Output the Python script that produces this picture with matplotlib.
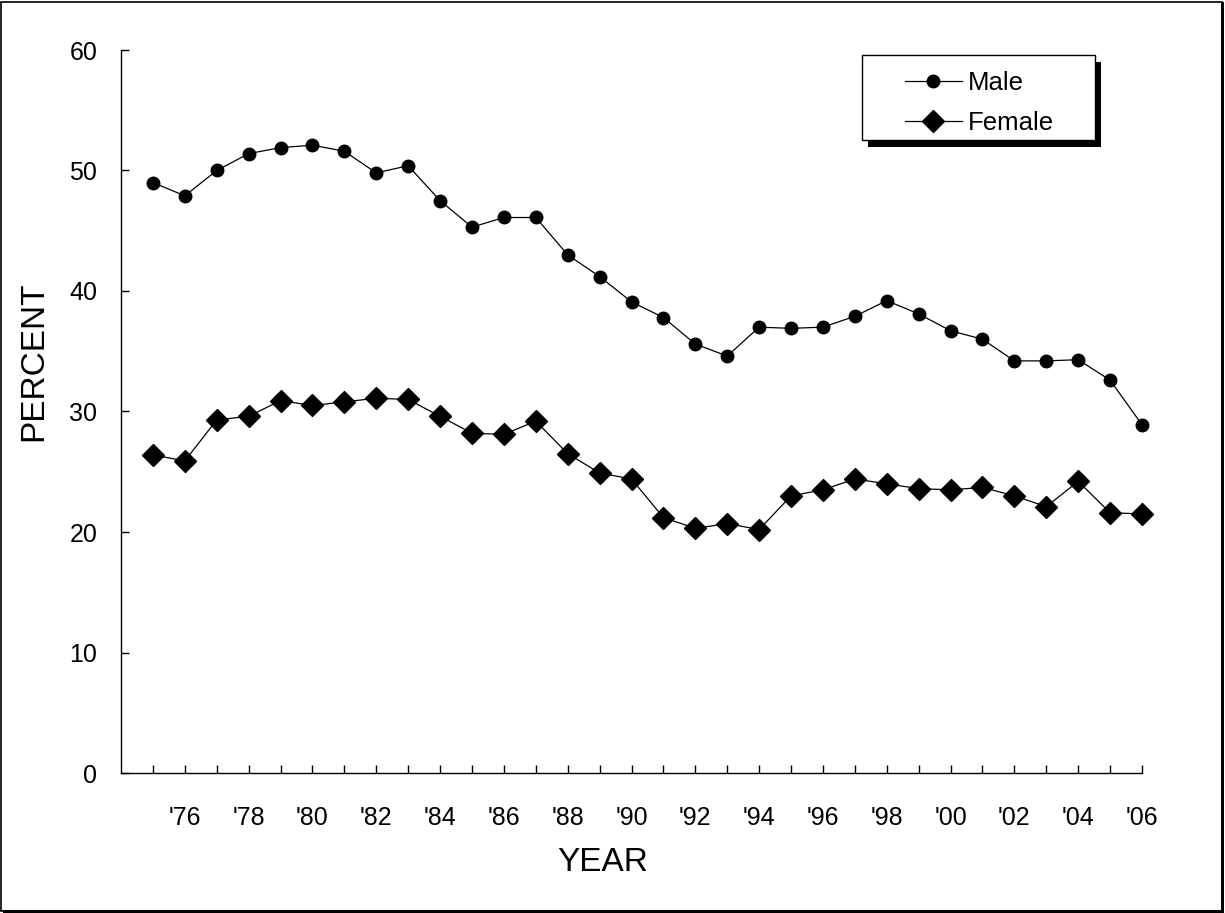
import matplotlib
matplotlib.use("Agg")
import matplotlib.pyplot as plt
from matplotlib.patches import Rectangle

years = list(range(1975, 2007))
male = [49.0, 47.9, 50.0, 51.4, 51.9, 52.1, 51.6, 49.8, 50.4, 47.5, 45.3, 46.1, 46.1, 43.0, 41.2, 39.1,
        37.8, 35.6, 34.6, 37.0, 36.9, 37.0, 37.9, 39.2, 38.1, 36.7, 36.0, 34.2, 34.2, 34.3, 32.6, 28.9]
female = [26.4, 25.9, 29.3, 29.6, 30.9, 30.5, 30.8, 31.1, 31.0, 29.6, 28.2, 28.1, 29.2, 26.5, 24.9, 24.4,
          21.2, 20.3, 20.7, 20.2, 23.0, 23.5, 24.4, 24.0, 23.6, 23.5, 23.7, 23.0, 22.1, 24.2, 21.6, 21.5]
label_years = list(range(1976, 2007, 2))
yticks = [0, 10, 20, 30, 40, 50, 60]

plt.rcParams['font.family'] = ['Liberation Sans', 'DejaVu Sans']

W, H = 1225, 913
fig = plt.figure(figsize=(W/100, H/100), dpi=100)
ax = fig.add_axes([121/W, 1-773/H, (1142-121)/W, (773-50)/H])

ax.plot(years, male, color='black', lw=0.9, marker='o', ms=9, label='Male', clip_on=False)
ax.plot(years, female, color='black', lw=0.9, marker='D', ms=11, label='Female', clip_on=False)

ax.set_xlim(1974, 2006)
ax.set_ylim(0, 60)
ax.set_xticks(years)
ax.set_xticklabels([("'" + str(y)[2:]) if y in label_years else '' for y in years])
ax.set_yticks(yticks)
ax.tick_params(axis='both', direction='in', length=6, width=1, labelsize=18, color='black')
ax.tick_params(axis='x', pad=24)
ax.tick_params(axis='y', pad=17)
for s in ['top', 'right']:
    ax.spines[s].set_visible(False)
for s in ['left', 'bottom']:
    ax.spines[s].set_linewidth(1)

ax.set_xlabel('YEAR', fontsize=24, labelpad=12)
ax.xaxis.label.set_x((603-121)/1021)
ax.set_ylabel('PERCENT', fontsize=24)
ax.yaxis.set_label_coords((49-121)/1021, (773-361)/723)

# legend box with black shadow
ax.add_patch(Rectangle((868/W, 1-147/H), (1095-862)/W, (140-55)/H, transform=fig.transFigure,
                       facecolor='black', edgecolor='none', zorder=6, clip_on=False))
ax.add_patch(Rectangle((862/W, 1-140/H), (1095-862)/W, (140-55)/H, transform=fig.transFigure,
                       facecolor='white', edgecolor='black', lw=1, zorder=7, clip_on=False))
leg = ax.legend(loc='upper left', bbox_to_anchor=(905/W, 1-71/H), bbox_transform=fig.transFigure,
                fontsize=18.5, frameon=False, handlelength=2.2, borderpad=0, borderaxespad=0,
                labelspacing=0.62, handletextpad=0.25)
leg.set_zorder(10)

# figure border
fig.patches.append(Rectangle((1/W, 2/H), 1-4/W, 1-4/H, transform=fig.transFigure,
                             fill=False, edgecolor='black', lw=1.2))
fig.patches.append(Rectangle((1-4/W, 0), 3/W, 1-2/H, transform=fig.transFigure,
                             facecolor='black', edgecolor='none'))
fig.patches.append(Rectangle((3/W, 0), 1-5/W, 3/H, transform=fig.transFigure,
                             facecolor='black', edgecolor='none'))

fig.savefig('out.png', dpi=100)
